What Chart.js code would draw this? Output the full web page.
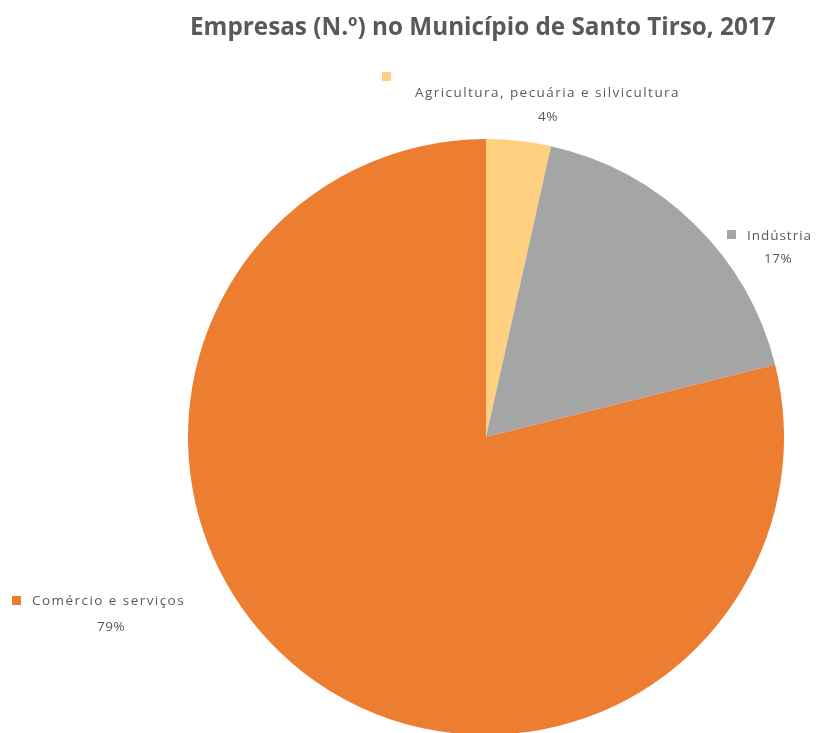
<!DOCTYPE html>
<html>
<head>
<meta charset="utf-8">
<script src="https://cdn.jsdelivr.net/npm/chart.js@4"></script>
<style>
  html, body { margin: 0; padding: 0; background: #fff; overflow: hidden; }
  #wrap { width: 817px; height: 745px; }
</style>
</head>
<body>
<div id="wrap"><canvas id="c" width="817" height="745"></canvas></div>
<script>
const titleText = 'Empresas (N.º) no Município de Santo Tirso, 2017';
const categories = ['Agricultura, pecuária e silvicultura', 'Indústria', 'Comércio e serviços'];
const shares = [3.5, 17.6, 78.9];
const percentLabels = ['4%', '17%', '79%'];
const colors = ['#FFD07F', '#A5A5A5', '#ED7D31'];

// label placement (style only): marker box, text left/centre y, percent centre
const labelLayout = [
  { box: [382, 72], textX: 415, textY: 93, textW: 265, pctX: 548, pctY: 117 },
  { box: [727, 230], textX: 747, textY: 236, textW: 65, pctX: 778, pctY: 259 },
  { box: [12, 596], textX: 32, textY: 601, textW: 153, pctX: 111, pctY: 627 }
];

const FONT = '"Open Sans", "Liberation Sans", sans-serif';
const LABEL_SIZE = 13.5;

function spacingFor(ctx, text, width) {
  ctx.letterSpacing = '0px';
  const w = ctx.measureText(text).width;
  return Math.max(0, (width - w) / text.length);
}

const labelPlugin = {
  id: 'labelPlugin',
  afterDraw(chart) {
    const ctx = chart.ctx;
    ctx.save();
    // title
    ctx.font = 'bold 20px ' + FONT;
    ctx.letterSpacing = '0px';
    const tw = ctx.measureText(titleText).width;
    const ts = 20 * 586 / tw;
    ctx.font = 'bold ' + ts.toFixed(2) + 'px ' + FONT;
    ctx.fillStyle = '#595959';
    ctx.textAlign = 'left';
    ctx.textBaseline = 'middle';
    ctx.fillText(titleText, 190, 28);

    chart.data.labels.forEach((lab, i) => {
      const L = labelLayout[i];
      ctx.fillStyle = chart.data.datasets[0].backgroundColor[i];
      ctx.fillRect(L.box[0], L.box[1], 9, 9);
      ctx.font = LABEL_SIZE + 'px ' + FONT;
      const sp = spacingFor(ctx, lab, L.textW);
      ctx.letterSpacing = sp.toFixed(2) + 'px';
      ctx.fillStyle = '#595959';
      ctx.textAlign = 'left';
      ctx.fillText(lab, L.textX, L.textY);
      ctx.letterSpacing = '0.5px';
      ctx.textAlign = 'center';
      ctx.fillText(percentLabels[i], L.pctX, L.pctY);
    });
    ctx.restore();
  }
};

new Chart(document.getElementById('c'), {
  type: 'pie',
  data: {
    labels: categories,
    datasets: [{
      data: shares,
      backgroundColor: colors,
      borderWidth: 0,
      hoverOffset: 0,
      offset: 0
    }]
  },
  options: {
    responsive: false,
    animation: false,
    layout: { padding: { left: 188, right: 33, top: 129, bottom: 0 } },
    plugins: {
      legend: { display: false },
      title: { display: false },
      tooltip: { enabled: false }
    },
    events: []
  },
  plugins: [labelPlugin]
});
</script>
</body>
</html>
